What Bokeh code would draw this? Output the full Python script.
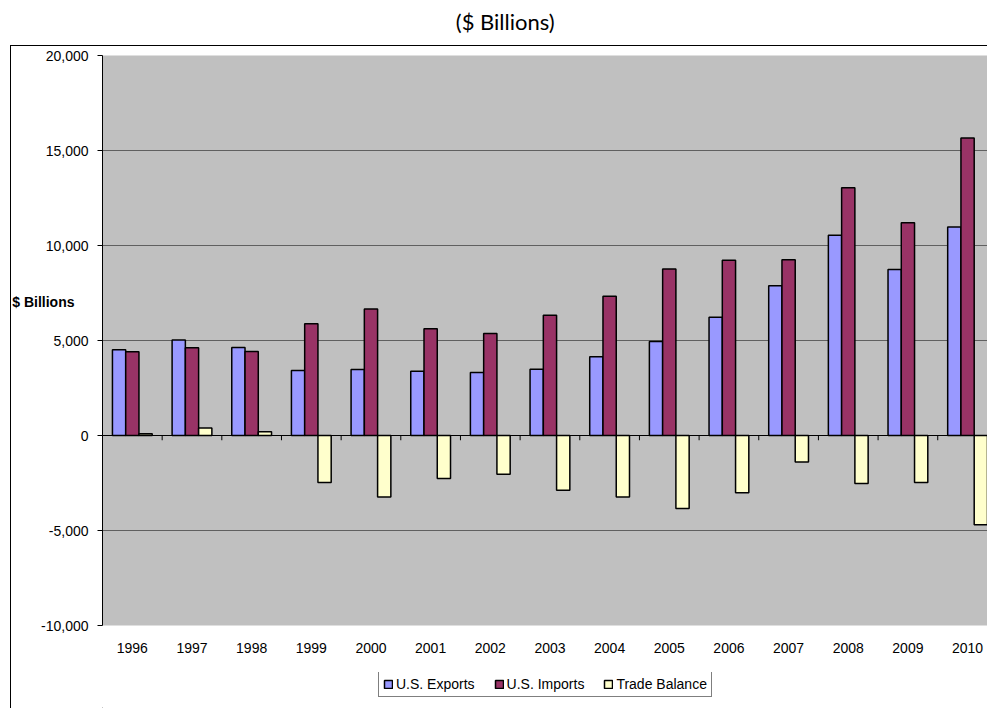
from bokeh.plotting import figure
from bokeh.layouts import column
from bokeh.models import (Range1d, FixedTicker, NumeralTickFormatter, Span, LinearAxis,
                          Legend, LegendItem, ColumnDataSource)
from bokeh.transform import dodge
from bokeh.embed import file_html
from bokeh.resources import INLINE

years = ["1996", "1997", "1998", "1999", "2000", "2001", "2002", "2003",
         "2004", "2005", "2006", "2007", "2008", "2009", "2010"]
exports = [4510, 5020, 4630, 3420, 3475, 3385, 3315, 3490,
           4140, 4945, 6230, 7880, 10545, 8735, 10970]
imports = [4405, 4615, 4420, 5880, 6655, 5615, 5370, 6335,
           7330, 8760, 9230, 9245, 13035, 11195, 15655]
balance = [95, 390, 195, -2475, -3240, -2265, -2035, -2875,
           -3240, -3840, -3015, -1400, -2525, -2475, -4700]
y_ticks = [-10000, -5000, 0, 5000, 10000, 15000, 20000]
series_names = ["U.S. Exports", "U.S. Imports", "Trade Balance"]
series_colors = ["#9999FF", "#993366", "#FFFFCC"]
title_text = "($ Billions)"
title_at = 6.25
y_title = "$ Billions"
y_title_at = 7050

idx = list(range(len(years)))
bounds = [i + 0.5 for i in idx[:-1]]
src = ColumnDataSource(dict(x=idx, exports=exports, imports=imports, balance=balance))

border_css = ("linear-gradient(#000,#000) 10px 45px / 1px calc(100% - 45px) no-repeat, "
              "linear-gradient(#000,#000) 10px 45px / calc(100% - 10px) 1px no-repeat, #ffffff")
border_css2 = "linear-gradient(#000,#000) 10px 0px / 1px 100% no-repeat, #ffffff"

p = figure(width=987, height=672, output_backend="svg", toolbar_location=None,
           x_range=Range1d(-0.5, 14.334), y_range=Range1d(-10000, 20000),
           min_border_left=102, min_border_right=0, min_border_top=55, min_border_bottom=47,
           styles={"background": border_css})
p.background_fill_color = "#C0C0C0"
p.border_fill_color = None
p.outline_line_color = None

w = 1 / 4.5
renderers = []
for off, col, name in zip([-w, 0, w], ["exports", "imports", "balance"], series_colors):
    r = p.vbar(x=dodge("x", off), top=col, bottom=0, width=w, source=src,
               fill_color=name, line_color="black", line_width=1.5)
    renderers.append(r)

p.add_layout(Span(location=0, dimension="width", line_color="black", line_width=1))
p.segment(x0=bounds, y0=[0] * len(bounds), x1=bounds, y1=[-250] * len(bounds),
          line_color="black", line_width=1)

p.ygrid.ticker = FixedTicker(ticks=y_ticks)
p.ygrid.grid_line_color = "#606060"
p.ygrid.grid_line_width = 1
p.xgrid.visible = False

ya = p.left[0]
ya.ticker = FixedTicker(ticks=y_ticks, minor_ticks=[])
ya.formatter = NumeralTickFormatter(format="0,0")
ya.major_label_text_font = "Liberation Sans"
ya.major_label_text_font_size = "14px"
ya.major_label_text_color = "black"
ya.major_tick_out = 5
ya.major_tick_in = 0
ya.minor_tick_out = 0
ya.minor_tick_in = 0
ya.axis_line_color = "black"
ya.major_tick_line_color = "black"
ya.major_label_standoff = 9

xa = p.below[0]
xa.ticker = FixedTicker(ticks=idx, minor_ticks=[])
xa.major_label_overrides = {i: y for i, y in zip(idx, years)}
xa.major_label_text_font = "Liberation Sans"
xa.major_label_text_font_size = "14px"
xa.major_label_text_color = "black"
xa.major_tick_out = 0
xa.major_tick_in = 0
xa.minor_tick_out = 0
xa.minor_tick_in = 0
xa.axis_line_color = None
xa.major_label_standoff = 17

ya2 = LinearAxis(ticker=FixedTicker(ticks=[y_title_at], minor_ticks=[]),
                 major_label_overrides={y_title_at: y_title},
                 major_label_text_font="Liberation Sans", major_label_text_font_size="14px",
                 major_label_text_font_style="bold", major_label_text_color="black",
                 major_tick_out=0, major_tick_in=0, minor_tick_out=0, minor_tick_in=0,
                 axis_line_color=None, major_label_standoff=-36)
p.add_layout(ya2, "left")

xt = LinearAxis(ticker=FixedTicker(ticks=[title_at], minor_ticks=[]),
                major_label_overrides={title_at: title_text},
                major_label_text_font="Lato", major_label_text_font_size="22px",
                major_label_text_color="black",
                major_tick_out=0, major_tick_in=0, minor_tick_out=0, minor_tick_in=0,
                axis_line_color=None, major_label_standoff=21)
p.add_layout(xt, "above")

# legend strip below the chart
p2 = figure(width=987, height=36, output_backend="svg", toolbar_location=None,
            x_range=Range1d(0, 1), y_range=Range1d(0, 1),
            min_border=0, min_border_left=0, min_border_right=0,
            min_border_top=0, min_border_bottom=0,
            styles={"background": border_css2})
p2.axis.visible = False
p2.grid.visible = False
p2.outline_line_color = None
p2.background_fill_color = None
p2.border_fill_color = None
swatches = [p2.vbar(x=[-50], top=[-50], bottom=[-60], width=0.1, fill_color=c,
                    line_color="black", line_width=1.5)
            for c in series_colors]
legend = Legend(items=[LegendItem(label=n, renderers=[r]) for n, r in zip(series_names, swatches)],
                location=(276, 11), orientation="horizontal",
                glyph_width=10, glyph_height=10, label_height=15, label_standoff=3,
                spacing=19, padding=4, margin=0,
                border_line_color="black", border_line_width=1,
                background_fill_color="white", background_fill_alpha=1,
                label_text_font="Liberation Sans", label_text_font_size="14px",
                label_text_color="black")
p2.add_layout(legend)

layout = column(p, p2, spacing=0)
open("out.html", "w").write(file_html(layout, INLINE))
